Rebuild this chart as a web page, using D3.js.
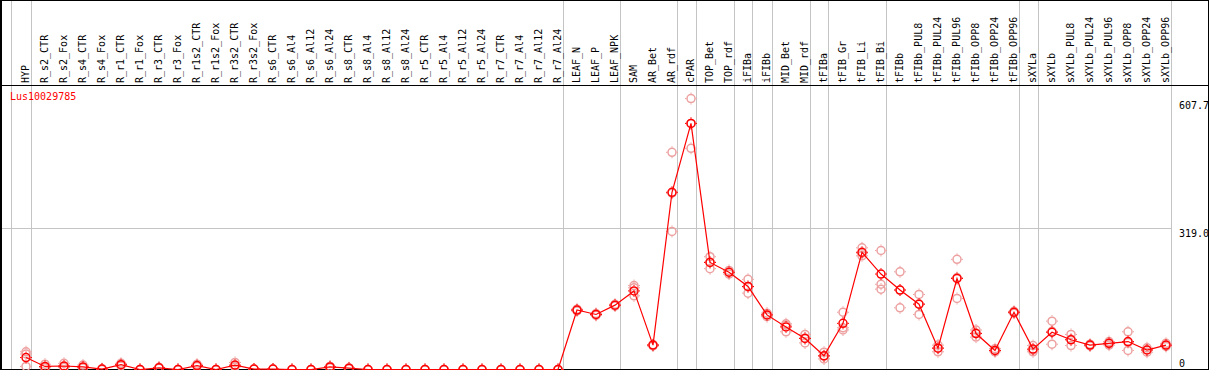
<!DOCTYPE html>
<html>
<head>
<meta charset="utf-8">
<script src="https://cdn.jsdelivr.net/npm/d3@7"></script>
<style>
  html, body { margin: 0; padding: 0; background: #fff; }
  svg { display: block; }
  text { font-family: "DejaVu Sans Mono", monospace; font-size: 10px; }
</style>
</head>
<body>
<svg id="chart" width="1209" height="370"></svg>
<script>
const geneId = "Lus10029785";

const samples = ["HYP","R_s2_CTR","R_s2_Fox","R_s4_CTR","R_s4_Fox","R_r1_CTR","R_r1_Fox","R_r3_CTR","R_r3_Fox",
  "R_r1s2_CTR","R_r1s2_Fox","R_r3s2_CTR","R_r3s2_Fox","R_s6_CTR","R_s6_Al4","R_s6_Al12","R_s6_Al24",
  "R_s8_CTR","R_s8_Al4","R_s8_Al12","R_s8_Al24","R_r5_CTR","R_r5_Al4","R_r5_Al12","R_r5_Al24",
  "R_r7_CTR","R_r7_Al4","R_r7_Al12","R_r7_Al24","LEAF_N","LEAF_P","LEAF_NPK","SAM","AR_Bet","AR_rdf",
  "cPAR","TOP_Bet","TOP_rdf","iFIBa","iFIBb","MID_Bet","MID_rdf","tFIBa","tFIB_Gr","tFIB_Li","tFIB_Bi",
  "tFIBb","tFIBb_PUL8","tFIBb_PUL24","tFIBb_PUL96","tFIBb_OPP8","tFIBb_OPP24","tFIBb_OPP96","sXYLa",
  "sXYLb","sXYLb_PUL8","sXYLb_PUL24","sXYLb_PUL96","sXYLb_OPP8","sXYLb_OPP24","sXYLb_OPP96"];

const means = [28,8,9,7,2,12,1,5,1,10,1,11,2,2,1,1,7,4,1,1,1,1,1,1,1,1,1,1,1,
  135,125,146,178,56,400,555,242,220,188,124,97,71,32,105,265,216,180,148,49,206,82,44,130,47,85,68,56,60,64,45,56];

const rep1 = [41,13,15,11,3,15,1,6,1,13,1,17,2,2,1,1,8,5,1,1,1,1,1,1,1,1,1,1,1,
  137,127,148,190,57,490,611,255,224,204,128,104,80,40,130,275,269,221,170,56,249,90,48,132,55,110,80,58,64,86,50,60];
const rep2 = [8,5,6,5,1,9,1,4,1,8,1,7,2,2,1,1,5,3,1,1,1,1,1,1,1,1,1,1,1,
  133,123,144,167,54,312,499,228,216,173,120,86,61,25,90,257,182,140,125,41,161,74,41,128,41,58,55,54,56,44,40,53];
const rep3 = [36,6,6,5,2,12,1,5,1,10,1,9,2,2,1,1,8,4,1,1,1,1,1,1,1,1,1,1,1,
  135,125,146,185,56,398,555,243,220,187,124,101,72,31,95,263,193,180,149,50,208,83,44,130,45,87,69,56,60,62,45,55];

// group separators: vertical line drawn after these sample indices
const groupEnds = [-1,0,28,31,34,35,37,38,39,41,42,45,52,53,60];
const yTicks = [0, 319.0, 607.7];

const W = 1209, H = 370;
const svg = d3.select("#chart");

const x = d3.scaleLinear().domain([0, samples.length - 1]).range([26, 1166]);
const y = d3.scaleLinear().domain([0, 607.7]).range([370, 100]);

// vertical group lines
svg.append("g").selectAll("line").data(groupEnds).join("line")
  .attr("x1", d => Math.round(x(d) + 4.5) + 0.5).attr("x2", d => Math.round(x(d) + 4.5) + 0.5)
  .attr("y1", 0).attr("y2", H)
  .attr("stroke", "#c4c4c4").attr("stroke-width", 1);

// horizontal grid line (middle tick)
svg.append("g").selectAll("line").data(yTicks.filter(t => t > 0 && t < 607.7)).join("line")
  .attr("x1", 0).attr("x2", Math.round(x(60) + 4.5) + 0.5)
  .attr("y1", d => Math.round(y(d)) + 0.5).attr("y2", d => Math.round(y(d)) + 0.5)
  .attr("stroke", "#c4c4c4").attr("stroke-width", 1);

// borders
svg.append("line").attr("x1", 0).attr("x2", W).attr("y1", 0.5).attr("y2", 0.5).attr("stroke", "#000");
svg.append("line").attr("x1", 0).attr("x2", W).attr("y1", 85.5).attr("y2", 85.5).attr("stroke", "#000");
svg.append("line").attr("x1", 0).attr("x2", W).attr("y1", 369.5).attr("y2", 369.5).attr("stroke", "#000");
svg.append("line").attr("x1", 1).attr("x2", 1).attr("y1", 0).attr("y2", H).attr("stroke", "#000").attr("stroke-width", 2);
svg.append("line").attr("x1", 1208.5).attr("x2", 1208.5).attr("y1", 0).attr("y2", H).attr("stroke", "#000");

// sample labels (rotated)
svg.append("g").selectAll("text").data(samples).join("text")
  .attr("transform", (d, i) => `translate(${Math.round(x(i) + 3)},83) rotate(-90)`)
  .attr("text-anchor", "start")
  .attr("fill", "#000")
  .text(d => d);

// gene id
svg.append("text").attr("x", 10).attr("y", 100).attr("fill", "#ff0000").text(geneId);

// right axis labels
const axis = d3.axisRight(y).tickValues(yTicks).tickSize(0).tickPadding(0)
  .tickFormat(d => d === 0 ? "0" : d.toFixed(1));
const ag = svg.append("g").attr("transform", "translate(1179,0)").call(axis);
ag.select(".domain").remove();
ag.selectAll("text")
  .attr("x", 0)
  .attr("dy", null)
  .attr("y", d => d === 0 ? -4 : 8)
  .attr("fill", "#000")
  .style("font-family", "'DejaVu Sans Mono', monospace")
  .style("font-size", "10px");

// marker helper
function marker(g, color) {
  g.append("circle").attr("r", 4).attr("fill", "none").attr("stroke", color).attr("stroke-width", 1.5);
  g.append("path").attr("d", "M0,-4.8V-6M0,4.8V6M-4.8,0H-6M4.8,0H6").attr("stroke", color).attr("stroke-width", 1);
}

// replicate markers
const reps = [rep1, rep2, rep3];
const pink = "#eda0a0";
reps.forEach(rep => {
  svg.append("g").selectAll("g").data(rep).join("g")
    .attr("transform", (d, i) => `translate(${x(i)},${y(d)})`)
    .each(function() { marker(d3.select(this), pink); });
});

// mean line
svg.append("path").datum(means)
  .attr("fill", "none").attr("stroke", "#ff0000").attr("stroke-width", 1.2)
  .attr("d", d3.line().x((d, i) => x(i)).y(d => y(d)));

// mean markers
svg.append("g").selectAll("g").data(means).join("g")
  .attr("transform", (d, i) => `translate(${x(i)},${y(d)})`)
  .each(function() { marker(d3.select(this), "#ff0000"); });
</script>
</body>
</html>
